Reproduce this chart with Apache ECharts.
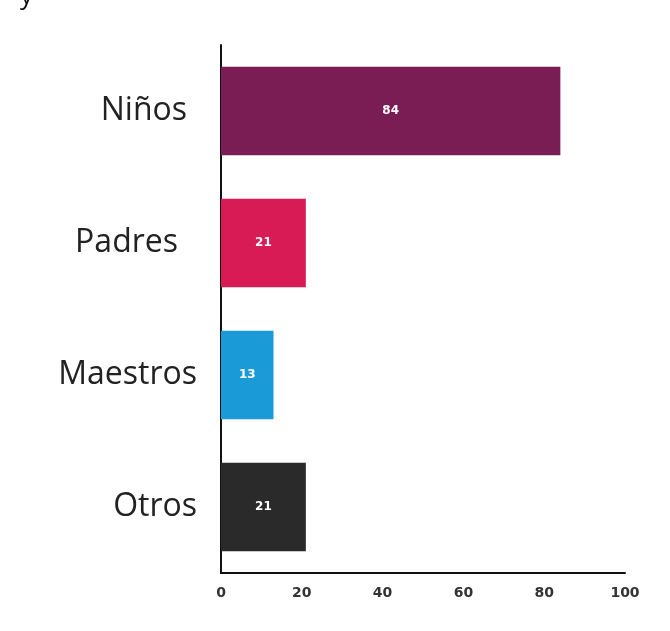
<!DOCTYPE html>
<html>
<head>
<meta charset="utf-8">
<script src="https://cdn.jsdelivr.net/npm/echarts@6/dist/echarts.min.js"></script>
<style>
  html, body { margin: 0; padding: 0; background: #ffffff; }
  #chart { width: 670px; height: 631px; }
</style>
</head>
<body>
<div id="chart"></div>
<script>
// Categories, values and tick labels
const categories = ['Niños', 'Padres', 'Maestros', 'Otros'];
const values = [84, 21, 13, 21];
const xTicks = [0, 20, 40, 60, 80, 100];

// Styling: one colour per bar, extra right gap per category label
const barColors = ['#7b1d55', '#d81b55', '#1a9ad6', '#2a2a2a'];
const labelRightGap = [10, 19, 0, 0];

const chart = echarts.init(document.getElementById('chart'));

chart.setOption({
  animation: false,
  backgroundColor: '#ffffff',
  graphic: [{
    type: 'text',
    left: 20,
    top: -16,
    style: { text: 'y', font: '26px "Open Sans"', fill: '#111' }
  }],
  grid: { left: 221, right: 45, top: 45, bottom: 58, containLabel: false },
  xAxis: {
    type: 'value',
    min: xTicks[0],
    max: xTicks[xTicks.length - 1],
    interval: xTicks[1] - xTicks[0],
    axisLine: { show: true, lineStyle: { color: '#111', width: 2 } },
    axisTick: { show: false },
    splitLine: { show: false },
    axisLabel: {
      margin: 13,
      fontFamily: 'DejaVu Sans',
      fontWeight: 'bold',
      fontSize: 14,
      color: '#333'
    }
  },
  yAxis: {
    type: 'category',
    inverse: true,
    data: categories.map((c, i) => ({
      value: c,
      textStyle: { padding: [0, labelRightGap[i], 0, 0] }
    })),
    axisLine: { show: true, lineStyle: { color: '#111', width: 2 } },
    axisTick: { show: false },
    axisLabel: {
      margin: 24,
      fontFamily: 'Open Sans',
      fontSize: 32,
      color: '#222'
    }
  },
  series: [{
    type: 'bar',
    barCategoryGap: '33%',
    data: values.map((v, i) => ({ value: v, itemStyle: { color: barColors[i] } })),
    label: {
      show: true,
      position: 'inside',
      color: '#ffffff',
      fontFamily: 'DejaVu Sans',
      fontWeight: 'bold',
      fontSize: 12
    }
  }]
});
</script>
</body>
</html>
